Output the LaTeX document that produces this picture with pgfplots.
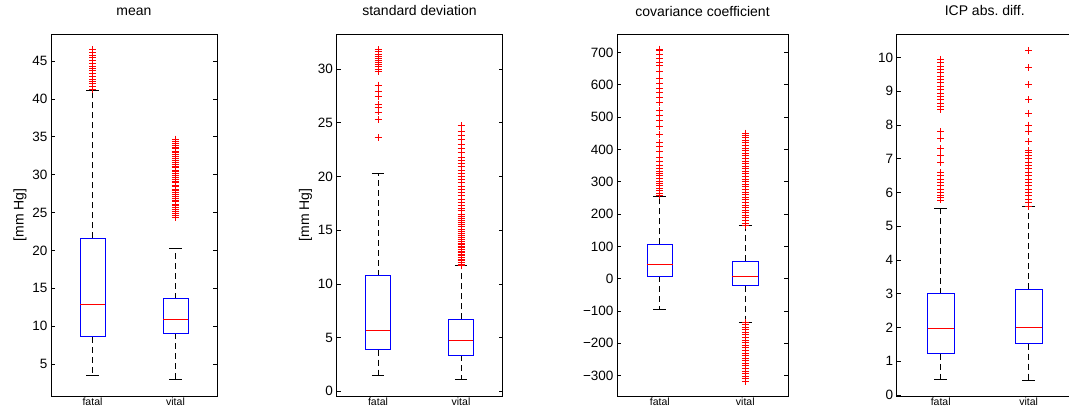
\documentclass[border=0pt]{standalone}
\usepackage{fontspec}
\setmainfont{Liberation Sans}
\usepackage{pgfplots}
\pgfplotsset{compat=1.18}
\usepgfplotslibrary{statistics}

\pgfplotsset{
  mlaxis/.style={
    scale only axis, anchor=south west,
    height=362pt,
    xmin=0.5, xmax=2.5,
    xtick={1,2}, xticklabels={fatal,vital},
    xtick style={draw=none},
    xticklabel style={font=\fontsize{10.5}{12}\selectfont, inner sep=2pt},
    yticklabel style={font=\fontsize{13.5}{15}\selectfont, /pgf/number format/assume math mode=true},
    major tick length=4pt,
    tick align=inside,
    ytick pos=both,
    tick style={black, line width=0.7pt},
    axis line style={black, line width=0.9pt},
    title style={font=\fontsize{14}{16}\selectfont, anchor=base, at={(0.5,1)}, yshift=12pt},
    ylabel style={font=\fontsize{14}{16}\selectfont, at={(axis description cs:-0.1867,0.5)}, anchor=center},
    clip=false,
  },
  mlbox/.style={
    red, mark=+, mark size=3.5pt, mark options={solid, red, line width=0.95pt},
    boxplot/draw direction=y,
    boxplot/box extend=0.3,
    boxplot/whisker extend=0.15,
    boxplot/every box/.style={draw=blue, solid, line width=0.8pt},
    boxplot/every median/.style={draw=red, solid, line width=0.8pt},
    boxplot/draw/lower whisker/.code={%
      \draw[black, dash pattern=on 6pt off 4pt, line width=0.8pt]
        (boxplot box cs:\pgfplotsboxplotvalue{lower quartile},0.5) --
        (boxplot box cs:\pgfplotsboxplotvalue{lower whisker},0.5);
      \draw[black, solid, line width=0.8pt]
        (boxplot whisker cs:\pgfplotsboxplotvalue{lower whisker},0) --
        (boxplot whisker cs:\pgfplotsboxplotvalue{lower whisker},1);
    },
    boxplot/draw/upper whisker/.code={%
      \draw[black, dash pattern=on 6pt off 4pt, line width=0.8pt]
        (boxplot box cs:\pgfplotsboxplotvalue{upper quartile},0.5) --
        (boxplot box cs:\pgfplotsboxplotvalue{upper whisker},0.5);
      \draw[black, solid, line width=0.8pt]
        (boxplot whisker cs:\pgfplotsboxplotvalue{upper whisker},0) --
        (boxplot whisker cs:\pgfplotsboxplotvalue{upper whisker},1);
    },
  },
}

\begin{document}
\begin{tikzpicture}
\useasboundingbox (0,0) rectangle (1069pt,408pt);
\clip (0,0) rectangle (1069pt,408pt);

% ---------------- mean
\begin{axis}[mlaxis, at={(51pt,12pt)}, width=166pt,
  ymin=0.78, ymax=48.56, ytick={5,10,15,20,25,30,35,40,45},
  title={mean}, ylabel={{[mm Hg]}}]
\addplot[mlbox, boxplot prepared={draw position=1,
  lower whisker=3.46, lower quartile=8.6, median=12.92,
  upper quartile=21.6, upper whisker=41.08}]
  table[row sep=\\, y index=0] {v\\ 41.3\\ 41.6\\ 42.0\\ 42.3\\ 42.6\\ 43.0\\ 43.3\\ 43.7\\ 44.0\\ 44.3\\ 44.7\\ 45.0\\ 45.4\\ 45.7\\ 46.1\\ 46.5\\};
\addplot[mlbox, boxplot prepared={draw position=2,
  lower whisker=2.98, lower quartile=9.05, median=10.9,
  upper quartile=13.62, upper whisker=20.27}]
  table[row sep=\\, y index=0] {v\\ 24.4\\ 24.6\\ 24.9\\ 25.1\\ 25.4\\ 25.6\\ 25.9\\ 26.1\\ 26.4\\ 26.6\\ 26.9\\ 27.1\\ 27.4\\ 27.6\\ 27.9\\ 28.1\\ 28.4\\ 28.6\\ 28.9\\ 29.1\\ 29.4\\ 29.6\\ 29.9\\ 30.1\\ 30.4\\ 30.6\\ 30.9\\ 31.1\\ 31.4\\ 31.6\\ 31.9\\ 32.1\\ 32.4\\ 32.6\\ 32.9\\ 33.1\\ 33.4\\ 33.6\\ 33.9\\ 34.1\\ 34.4\\ 34.7\\};
\end{axis}

% ---------------- standard deviation
\begin{axis}[mlaxis, at={(336.5pt,12pt)}, width=166pt,
  ymin=-0.44, ymax=33.26, ytick={0,5,10,15,20,25,30},
  title={standard deviation}, ylabel={{[mm Hg]}}]
\addplot[mlbox, boxplot prepared={draw position=1,
  lower whisker=1.52, lower quartile=3.87, median=5.68,
  upper quartile=10.76, upper whisker=20.29}]
  table[row sep=\\, y index=0] {v\\ 23.6\\ 25.3\\ 26.0\\ 26.4\\ 26.7\\ 27.4\\ 27.9\\ 28.5\\ 29.8\\ 30.0\\ 30.2\\ 30.4\\ 30.6\\ 30.8\\ 31.0\\ 31.2\\ 31.4\\ 31.6\\ 31.8\\};
\addplot[mlbox, boxplot prepared={draw position=2,
  lower whisker=1.12, lower quartile=3.35, median=4.75,
  upper quartile=6.70, upper whisker=11.69}]
  table[row sep=\\, y index=0] {v\\ 11.7\\ 11.85\\ 12.0\\ 12.15\\ 12.3\\ 12.45\\ 12.6\\ 12.75\\ 12.9\\ 13.05\\ 13.2\\ 13.35\\ 13.5\\ 13.65\\ 13.8\\ 13.95\\ 14.1\\ 14.3\\ 14.5\\ 14.7\\ 14.9\\ 15.1\\ 15.3\\ 15.5\\ 15.7\\ 15.9\\ 16.1\\ 16.3\\ 16.5\\ 16.8\\ 17.0\\ 17.3\\ 17.6\\ 17.9\\ 18.2\\ 18.5\\ 18.8\\ 19.1\\ 19.4\\ 19.7\\ 20.0\\ 20.3\\ 20.6\\ 20.9\\ 21.2\\ 21.5\\ 21.8\\ 22.2\\ 22.6\\ 23.0\\ 23.4\\ 23.8\\ 24.2\\ 24.7\\};
\end{axis}

% ---------------- covariance coefficient
\begin{axis}[mlaxis, at={(617pt,12pt)}, width=171pt,
  ymin=-363, ymax=757, ytick={-300,-200,-100,0,100,200,300,400,500,600,700},
  yticklabels={−300,−200,−100,0,100,200,300,400,500,600,700},
  title={covariance coefficient}]
\addplot[mlbox, boxplot prepared={draw position=1,
  lower whisker=-96, lower quartile=7.4, median=44.6,
  upper quartile=106.4, upper whisker=254.9}]
  table[row sep=\\, y index=0] {v\\ 258\\ 265\\ 272\\ 280\\ 288\\ 295\\ 302\\ 310\\ 318\\ 325\\ 332\\ 340\\ 350\\ 362\\ 375\\ 392\\ 410\\ 420\\ 445\\ 470\\ 490\\ 505\\ 520\\ 545\\ 560\\ 575\\ 590\\ 605\\ 620\\ 640\\ 660\\ 668\\ 680\\ 695\\ 705\\ 710\\};
\addplot[mlbox, boxplot prepared={draw position=2,
  lower whisker=-134.8, lower quartile=-21.6, median=6.2,
  upper quartile=53.9, upper whisker=165.2}]
  table[row sep=\\, y index=0] {v\\ 166\\ 172\\ 180\\ 188\\ 196\\ 204\\ 212\\ 220\\ 228\\ 236\\ 244\\ 252\\ 260\\ 268\\ 276\\ 284\\ 292\\ 300\\ 308\\ 316\\ 324\\ 332\\ 340\\ 348\\ 356\\ 364\\ 372\\ 380\\ 388\\ 396\\ 404\\ 412\\ 420\\ 428\\ 436\\ 444\\ 450\\ -136\\ -142\\ -150\\ -158\\ -166\\ -174\\ -182\\ -190\\ -198\\ -206\\ -214\\ -222\\ -230\\ -238\\ -246\\ -254\\ -262\\ -270\\ -278\\ -286\\ -294\\ -302\\ -310\\ -318\\};
\end{axis}

% ---------------- ICP abs. diff.
\begin{axis}[mlaxis, at={(896.7pt,12pt)}, width=176pt,
  ymin=-0.03, ymax=10.7, ytick={0,1,2,3,4,5,6,7,8,9,10},
  title={ICP abs.\ diff.}]
\addplot[mlbox, boxplot prepared={draw position=1,
  lower whisker=0.47, lower quartile=1.22, median=1.98,
  upper quartile=3.0, upper whisker=5.53}]
  table[row sep=\\, y index=0] {v\\ 5.78\\ 5.85\\ 5.9\\ 6.0\\ 6.1\\ 6.2\\ 6.3\\ 6.4\\ 6.5\\ 6.6\\ 6.9\\ 7.1\\ 7.3\\ 7.6\\ 7.8\\ 8.45\\ 8.55\\ 8.65\\ 8.75\\ 8.85\\ 8.95\\ 9.05\\ 9.15\\ 9.25\\ 9.35\\ 9.45\\ 9.55\\ 9.65\\ 9.75\\ 9.85\\ 9.95\\};
\addplot[mlbox, boxplot prepared={draw position=2,
  lower whisker=0.44, lower quartile=1.52, median=2.0,
  upper quartile=3.14, upper whisker=5.58}]
  table[row sep=\\, y index=0] {v\\ 5.6\\ 5.7\\ 5.8\\ 5.9\\ 6.0\\ 6.1\\ 6.2\\ 6.3\\ 6.4\\ 6.5\\ 6.6\\ 6.7\\ 6.8\\ 6.9\\ 7.0\\ 7.1\\ 7.2\\ 7.25\\ 7.5\\ 7.8\\ 8.0\\ 8.35\\ 8.75\\ 9.2\\ 9.7\\ 10.2\\};
\end{axis}
\end{tikzpicture}
\end{document}
